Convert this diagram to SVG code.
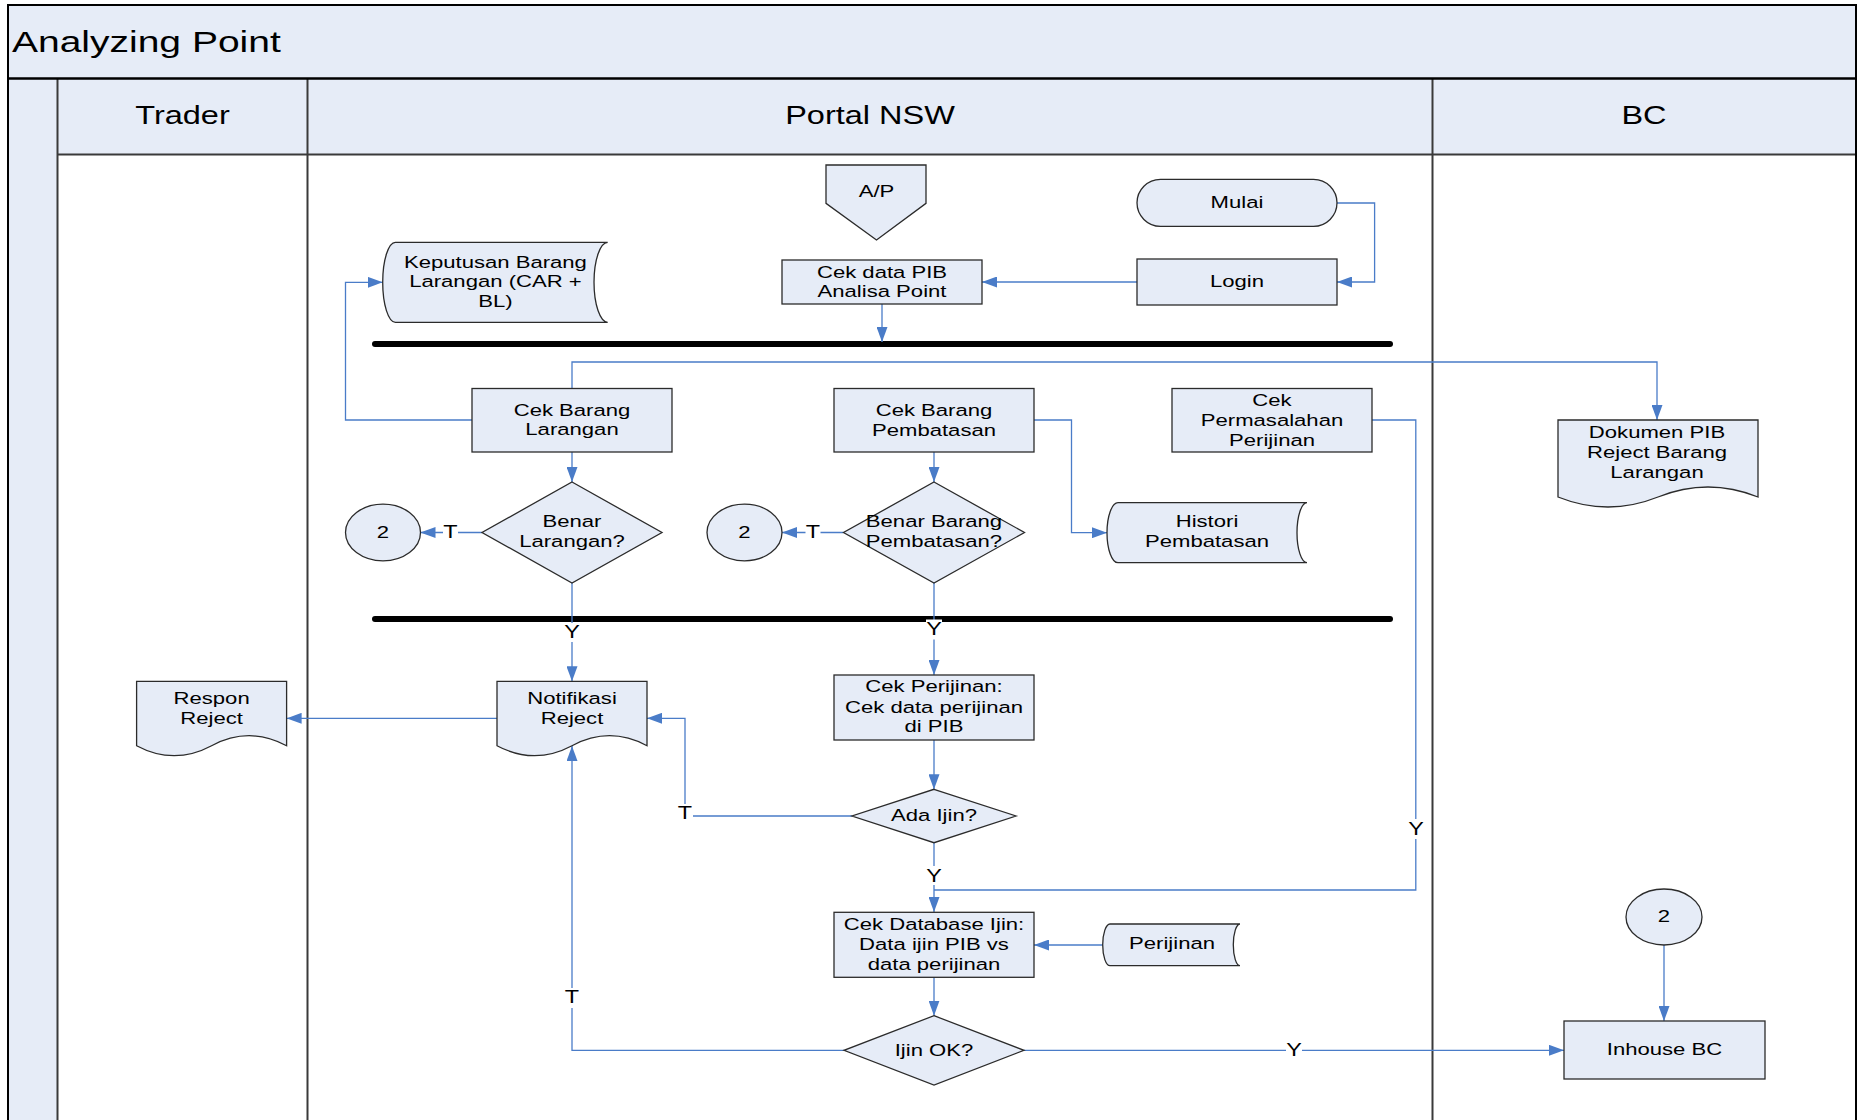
<svg xmlns="http://www.w3.org/2000/svg" width="1862" height="1120" viewBox="0 0 1862 1120">
<style>
.bg{fill:#E6ECF7}
.ln{stroke:#3a3a3a;stroke-width:2;fill:none}
.s{fill:#E6ECF7;stroke:#2b2b2b;stroke-width:1.3}
.c{fill:none;stroke:#4A7CC8;stroke-width:1.3}
.bar{stroke:#000;stroke-width:6;stroke-linecap:round}
.n{font-family:"Liberation Sans",Arial,Helvetica,sans-serif;font-size:17px;text-anchor:middle;fill:#000}
.h{font-family:"Liberation Sans",Arial,Helvetica,sans-serif;font-size:25px;text-anchor:middle;fill:#000}
.ttl{font-family:"Liberation Sans",Arial,Helvetica,sans-serif;font-size:30px;fill:#000}
.lb{font-family:"Liberation Sans",Arial,Helvetica,sans-serif;font-size:18px;text-anchor:middle;fill:#000}
.wb{fill:#fff}
</style>
<defs>
<marker id="ah" markerUnits="userSpaceOnUse" markerWidth="15" markerHeight="11" viewBox="0 0 15 11" refX="15" refY="5.5" orient="auto">
<path d="M0,0 L15,5.5 L0,11 Z" fill="#4A7CC8"/>
</marker>
</defs>
<rect width="1862" height="1120" fill="#fff"/>
<g id="swimlanes">
<rect class="bg" x="8" y="5" width="1848" height="73.5"/>
<rect class="bg" x="8" y="78.5" width="49.5" height="1045"/>
<rect class="bg" x="57.5" y="78.5" width="1798.5" height="76"/>
<line class="ln" x1="57.5" y1="154.5" x2="1856" y2="154.5"/>
<line class="ln" x1="57.5" y1="78.5" x2="57.5" y2="1122"/>
<line class="ln" x1="307.5" y1="78.5" x2="307.5" y2="1122"/>
<line class="ln" x1="1432.5" y1="78.5" x2="1432.5" y2="1122"/>
<line x1="8" y1="78.5" x2="1856" y2="78.5" stroke="#000" stroke-width="2.4"/>
<path d="M8,1122 V5 H1856 V1122" fill="none" stroke="#000" stroke-width="2"/>
<text class="ttl" transform="matrix(1.3 0 0 1 12 0)" x="0" y="52">Analyzing Point</text>
<text class="h" transform="matrix(1.3 0 0 1 182.5 0)" x="0" y="124">Trader</text>
<text class="h" transform="matrix(1.3 0 0 1 870 0)" x="0" y="124">Portal NSW</text>
<text class="h" transform="matrix(1.3 0 0 1 1644 0)" x="0" y="124">BC</text>
</g>
<g id="bars">
<line class="bar" x1="375" y1="344" x2="1390" y2="344"/>
<line class="bar" x1="375" y1="619" x2="1390" y2="619"/>
</g>
<g id="connectors">
<path class="c" d="M1337,203 H1374.6 V282 H1337" marker-end="url(#ah)"/>
<path class="c" d="M1137,282 H982" marker-end="url(#ah)"/>
<path class="c" d="M882,304 V342" marker-end="url(#ah)"/>
<path class="c" d="M572,388 V362 H1657 V420" marker-end="url(#ah)"/>
<path class="c" d="M472,420 H345.5 V282.3 H382.7" marker-end="url(#ah)"/>
<path class="c" d="M572,452 V482" marker-end="url(#ah)"/>
<path class="c" d="M482,532.5 H420.5" marker-end="url(#ah)"/>
<path class="c" d="M572,583 V681.3" marker-end="url(#ah)"/>
<path class="c" d="M934,452 V482" marker-end="url(#ah)"/>
<path class="c" d="M843.5,532.5 H782" marker-end="url(#ah)"/>
<path class="c" d="M1034,420 H1071.5 V532.7 H1107" marker-end="url(#ah)"/>
<path class="c" d="M934,583 V675" marker-end="url(#ah)"/>
<path class="c" d="M1372,420 H1415.8 V890 H934"/>
<path class="c" d="M934,740 V789.3" marker-end="url(#ah)"/>
<path class="c" d="M852,816 H685 V718.3 H647" marker-end="url(#ah)"/>
<path class="c" d="M934,842.7 V912" marker-end="url(#ah)"/>
<path class="c" d="M1102.7,945 H1034" marker-end="url(#ah)"/>
<path class="c" d="M934,977 V1015.7" marker-end="url(#ah)"/>
<path class="c" d="M844,1050.3 H572 V746" marker-end="url(#ah)"/>
<path class="c" d="M1024,1050.3 H1564" marker-end="url(#ah)"/>
<path class="c" d="M1664,945 V1021" marker-end="url(#ah)"/>
<path class="c" d="M497,718.3 H286.6" marker-end="url(#ah)"/>
<rect class="wb" x="443" y="524" width="15" height="15"/>
<text class="lb" transform="matrix(1.3 0 0 1 450.5 0)" x="0" y="538.5">T</text>
<rect class="wb" x="805.5" y="524" width="15" height="15"/>
<text class="lb" transform="matrix(1.3 0 0 1 813 0)" x="0" y="538.5">T</text>
<rect class="wb" x="564" y="623" width="16" height="19"/>
<text class="lb" transform="matrix(1.3 0 0 1 572 0)" x="0" y="638">Y</text>
<rect class="wb" x="926" y="619.5" width="16" height="20"/>
<text class="lb" transform="matrix(1.3 0 0 1 934 0)" x="0" y="635">Y</text>
<rect class="wb" x="1408" y="819" width="16" height="20"/>
<text class="lb" transform="matrix(1.3 0 0 1 1416 0)" x="0" y="835">Y</text>
<rect class="wb" x="677" y="804" width="16" height="16"/>
<text class="lb" transform="matrix(1.3 0 0 1 685 0)" x="0" y="819.5">T</text>
<rect class="wb" x="926" y="866" width="16" height="19"/>
<text class="lb" transform="matrix(1.3 0 0 1 934 0)" x="0" y="882">Y</text>
<rect class="wb" x="564" y="988" width="16" height="20"/>
<text class="lb" transform="matrix(1.3 0 0 1 572 0)" x="0" y="1003.5">T</text>
<rect class="wb" x="1286" y="1041" width="16" height="16"/>
<text class="lb" transform="matrix(1.3 0 0 1 1294 0)" x="0" y="1056">Y</text>
</g>
<g id="node-ap">
<polygon class="s" points="826,165 926,165 926,203.3 876.5,240 826,203.3"/>
<text class="n" transform="matrix(1.3 0 0 1 876.5 0)" x="0" y="197">A/P</text>
</g>
<g id="node-mulai">
<rect class="s" x="1137" y="179.3" width="200" height="47" rx="23.5" ry="23.5"/>
<text class="n" transform="matrix(1.3 0 0 1 1237 0)" x="0" y="208.3">Mulai</text>
</g>
<g id="node-login">
<rect class="s" x="1137" y="259" width="200" height="46"/>
<text class="n" transform="matrix(1.3 0 0 1 1237 0)" x="0" y="287.3">Login</text>
</g>
<g id="node-cekdatapib">
<rect class="s" x="782" y="260" width="200" height="44"/>
<text class="n" transform="matrix(1.3 0 0 1 882 0)"><tspan x="0" y="277.7">Cek data PIB</tspan><tspan x="0" y="297.3">Analisa Point</tspan></text>
</g>
<g id="node-keputusan">
<path class="s" d="M395.4,242.3 H607.7 A13.7,40 0 0 0 607.7,322.3 H395.4 A12.7,40 0 0 1 395.4,242.3 Z"/>
<text class="n" transform="matrix(1.3 0 0 1 495.4 0)"><tspan x="0" y="267.7">Keputusan Barang</tspan><tspan x="0" y="287.3">Larangan (CAR +</tspan><tspan x="0" y="307.3">BL)</tspan></text>
</g>
<g id="node-cekbaranglarangan">
<rect class="s" x="472" y="388.5" width="200" height="63.5"/>
<text class="n" transform="matrix(1.3 0 0 1 572 0)"><tspan x="0" y="415.7">Cek Barang</tspan><tspan x="0" y="435.3">Larangan</tspan></text>
</g>
<g id="node-cekbarangpembatasan">
<rect class="s" x="834" y="388.5" width="200" height="63.5"/>
<text class="n" transform="matrix(1.3 0 0 1 934 0)"><tspan x="0" y="416.3">Cek Barang</tspan><tspan x="0" y="436">Pembatasan</tspan></text>
</g>
<g id="node-cekpermasalahan">
<rect class="s" x="1172" y="388.5" width="200" height="63.5"/>
<text class="n" transform="matrix(1.3 0 0 1 1272 0)"><tspan x="0" y="406">Cek</tspan><tspan x="0" y="426">Permasalahan</tspan><tspan x="0" y="445.7">Perijinan</tspan></text>
</g>
<g id="node-dokumenpib">
<path class="s" d="M1558,420 H1758 V497 Q1708,477 1658,497 T1558,497 Z"/>
<text class="n" transform="matrix(1.3 0 0 1 1657 0)"><tspan x="0" y="437.7">Dokumen PIB</tspan><tspan x="0" y="457.7">Reject Barang</tspan><tspan x="0" y="477.7">Larangan</tspan></text>
</g>
<g id="node-benarlarangan">
<polygon class="s" points="572,482 662,532.5 572,583 482,532.5"/>
<text class="n" transform="matrix(1.3 0 0 1 572 0)"><tspan x="0" y="526.7">Benar</tspan><tspan x="0" y="547">Larangan?</tspan></text>
</g>
<g id="node-conn2a">
<ellipse class="s" cx="383" cy="532.5" rx="37.5" ry="28.3"/>
<text class="n" transform="matrix(1.3 0 0 1 383 0)" x="0" y="538">2</text>
</g>
<g id="node-benarpembatasan">
<polygon class="s" points="934,482 1024.5,532.5 934,583 843.5,532.5"/>
<text class="n" transform="matrix(1.3 0 0 1 934 0)"><tspan x="0" y="526.7">Benar Barang</tspan><tspan x="0" y="547">Pembatasan?</tspan></text>
</g>
<g id="node-conn2b">
<ellipse class="s" cx="744.5" cy="532.5" rx="37.5" ry="28.3"/>
<text class="n" transform="matrix(1.3 0 0 1 744.5 0)" x="0" y="538">2</text>
</g>
<g id="node-histori">
<path class="s" d="M1118,502.7 H1307 A10,30 0 0 0 1307,562.7 H1118 A11,30 0 0 1 1118,502.7 Z"/>
<text class="n" transform="matrix(1.3 0 0 1 1207 0)"><tspan x="0" y="526.7">Histori</tspan><tspan x="0" y="546.7">Pembatasan</tspan></text>
</g>
<g id="node-respon">
<path class="s" d="M136.6,681.3 H286.6 V745.7 Q249.1,725.7 211.6,745.7 T136.6,745.7 Z"/>
<text class="n" transform="matrix(1.3 0 0 1 211.6 0)"><tspan x="0" y="704">Respon</tspan><tspan x="0" y="724">Reject</tspan></text>
</g>
<g id="node-notifikasi">
<path class="s" d="M497,681.3 H647 V745.7 Q609.5,725.7 572,745.7 T497,745.7 Z"/>
<text class="n" transform="matrix(1.3 0 0 1 572 0)"><tspan x="0" y="704">Notifikasi</tspan><tspan x="0" y="724">Reject</tspan></text>
</g>
<g id="node-cekperijinan">
<rect class="s" x="834" y="675" width="200" height="65"/>
<text class="n" transform="matrix(1.3 0 0 1 934 0)"><tspan x="0" y="692.3">Cek Perijinan:</tspan><tspan x="0" y="712.7">Cek data perijinan</tspan><tspan x="0" y="732.3">di PIB</tspan></text>
</g>
<g id="node-adaijin">
<polygon class="s" points="934,789.3 1016,816 934,842.7 852,816"/>
<text class="n" transform="matrix(1.3 0 0 1 934 0)" x="0" y="821.3">Ada Ijin?</text>
</g>
<g id="node-cekdatabase">
<rect class="s" x="834" y="912.3" width="200" height="65"/>
<text class="n" transform="matrix(1.3 0 0 1 934 0)"><tspan x="0" y="930">Cek Database Ijin:</tspan><tspan x="0" y="950">Data ijin PIB vs</tspan><tspan x="0" y="970">data perijinan</tspan></text>
</g>
<g id="node-perijinan">
<path class="s" d="M1110,924 H1240 A6.7,20.85 0 0 0 1240,965.7 H1110 A7.3,20.85 0 0 1 1110,924 Z"/>
<text class="n" transform="matrix(1.3 0 0 1 1172 0)" x="0" y="949.3">Perijinan</text>
</g>
<g id="node-ijinok">
<polygon class="s" points="934,1015.7 1024,1050.3 934,1085 844,1050.3"/>
<text class="n" transform="matrix(1.3 0 0 1 934 0)" x="0" y="1055.7">Ijin OK?</text>
</g>
<g id="node-conn2c">
<ellipse class="s" cx="1664" cy="917" rx="38" ry="28"/>
<text class="n" transform="matrix(1.3 0 0 1 1664 0)" x="0" y="922">2</text>
</g>
<g id="node-inhouse">
<rect class="s" x="1564" y="1021" width="201" height="58"/>
<text class="n" transform="matrix(1.3 0 0 1 1664.5 0)" x="0" y="1055.3">Inhouse BC</text>
</g>
</svg>
